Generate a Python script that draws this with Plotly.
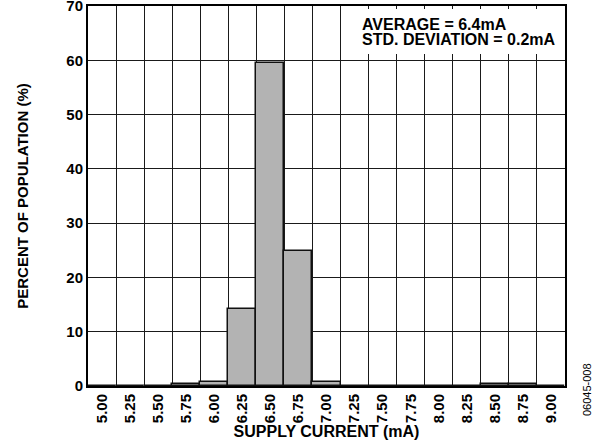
import plotly.graph_objects as go

categories = ["5.00", "5.25", "5.50", "5.75", "6.00", "6.25", "6.50", "6.75", "7.00",
              "7.25", "7.50", "7.75", "8.00", "8.25", "8.50", "8.75", "9.00"]
percent = [0, 0, 0, 0.3, 0.7, 14.1, 59.5, 24.9, 0.7, 0, 0, 0, 0, 0, 0.3, 0.3, 0]
y_ticks = [0, 10, 20, 30, 40, 50, 60, 70]

FONT = "Liberation Sans, Arial, sans-serif"
T, B, L, R = 6, 62, 88, 27
PH = 448 - T - B
PW = 592 - L - R


def py(px):
    return (448 - B - px) / PH


def pxx(px):
    return (px - L) / PW


fig = go.Figure()
fig.add_trace(go.Bar(
    x=categories, y=percent,
    marker=dict(color="#b3b3b3", line=dict(color="#111111", width=1.5)),
    width=1.0,
))

fig.update_layout(
    width=592, height=448,
    margin=dict(l=L, r=R, t=T, b=B, autoexpand=False),
    paper_bgcolor="white", plot_bgcolor="white",
    showlegend=False, bargap=0,
    font=dict(family=FONT, size=15, color="black"),
)
fig.update_xaxes(
    type="category", categoryorder="array", categoryarray=categories,
    tickson="boundaries", showgrid=True, gridcolor="#1a1a1a", gridwidth=1,
    showline=True, linecolor="black", linewidth=2, mirror=True,
    ticks="", tickangle=-90, automargin=False, ticklabeloverflow="allow",
    tickfont=dict(family=FONT, size=15, color="black", weight="bold"),
    title=dict(text="<b>SUPPLY CURRENT (mA)</b>", standoff=2,
               font=dict(family=FONT, size=16, color="black")),
)
fig.update_yaxes(
    range=[0, 70], tickvals=y_ticks, showgrid=True, gridcolor="#1a1a1a", gridwidth=1,
    showline=True, linecolor="black", linewidth=2, mirror=True,
    ticks="", zeroline=False, automargin=False, ticklabeloverflow="allow",
    tickfont=dict(family=FONT, size=15, color="black", weight="bold"),
    title=dict(text="<b>PERCENT OF POPULATION (%)</b>", standoff=34,
               font=dict(family=FONT, size=15, color="black")),
)

# white box behind the statistics text (gridlines show only as short ticks)
fig.add_shape(type="rect", xref="paper", yref="paper",
              x0=pxx(342), x1=pxx(564), y0=py(54), y1=py(9),
              fillcolor="white", line=dict(width=0), layer="above")
fig.add_annotation(xref="paper", yref="paper", x=pxx(360), y=py(24),
                   xanchor="left", yanchor="middle", showarrow=False,
                   text="<b>AVERAGE = 6.4mA</b>",
                   font=dict(family=FONT, size=16, color="black"))
fig.add_annotation(xref="paper", yref="paper", x=pxx(360), y=py(39),
                   xanchor="left", yanchor="middle", showarrow=False,
                   text="<b>STD. DEVIATION = 0.2mA</b>",
                   font=dict(family=FONT, size=16, color="black"))
fig.add_annotation(xref="paper", yref="paper", x=pxx(587), y=py(390),
                   xanchor="center", yanchor="middle", showarrow=False,
                   textangle=-90, text="06045-008",
                   font=dict(family=FONT, size=11, color="black"))

fig.write_html("out.html", config={"displayModeBar": False},
               post_script="document.body.style.margin='0';document.body.style.overflow='hidden';")
